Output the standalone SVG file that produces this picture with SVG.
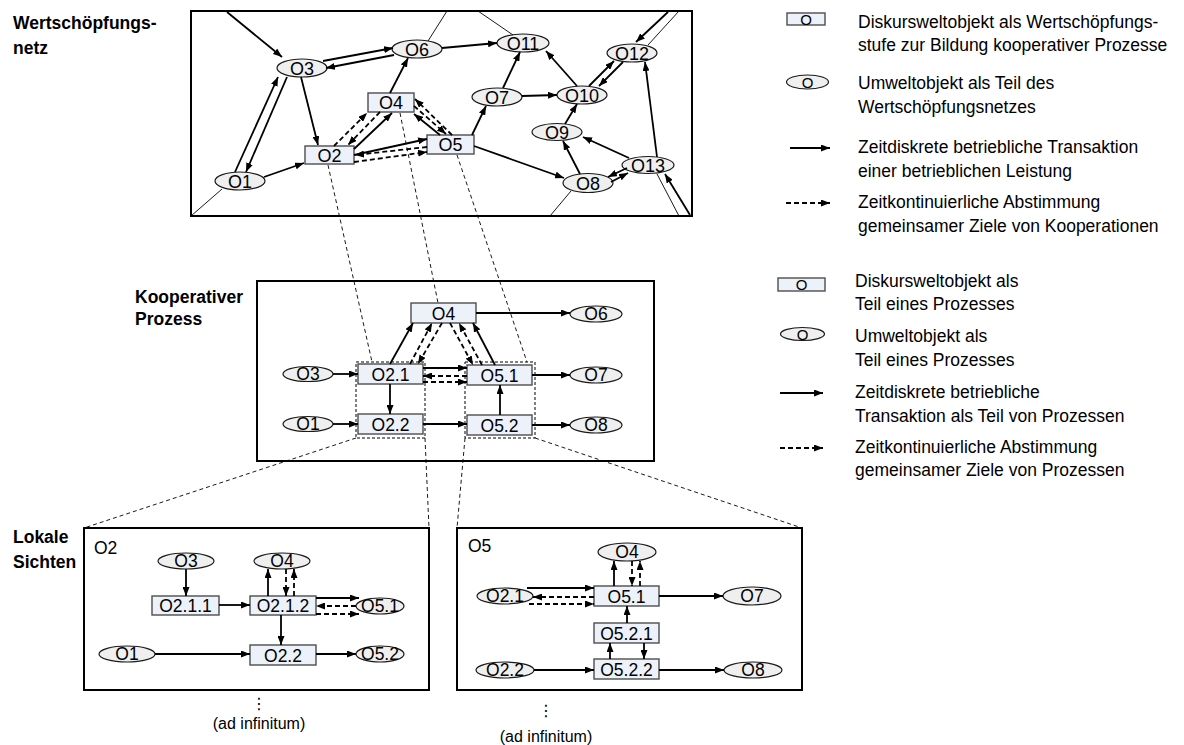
<svg xmlns="http://www.w3.org/2000/svg" width="1184" height="745" viewBox="0 0 1184 745">
  <defs>
    <marker id="ah" viewBox="0 0 9 7" markerWidth="9" markerHeight="7" refX="9" refY="3.5" orient="auto" markerUnits="userSpaceOnUse">
      <path d="M0,0 L9,3.5 L0,7 z" fill="#000"/>
    </marker>
    <style>
      text { font-family: "Liberation Sans", Arial, sans-serif; fill: #000; }
      .lbl { font-size: 17.5px; font-weight: bold; }
      .leg { font-size: 17.5px; }
      .nt { font-size: 17.5px; text-anchor: middle; }
      .nt18 { font-size: 18px; text-anchor: middle; }
      .ico { font-size: 15px; text-anchor: middle; }
      .small { font-size: 16px; text-anchor: middle; }
      .dots { font-family: "DejaVu Sans", sans-serif; font-size: 16px; text-anchor: middle; }
      .frame { fill: #fff; stroke: #000; stroke-width: 2; }
      .rn { fill: #edf1f9; stroke: #4d4d4d; stroke-width: 1.4; }
      .en { fill: #efefef; stroke: #1a1a1a; stroke-width: 1.2; }
      .grp { fill: none; stroke: #000; stroke-width: 1; stroke-dasharray: 3 2; }
      .s { stroke: #000; stroke-width: 1.8; fill: none; marker-end: url(#ah); }
      .d { stroke: #000; stroke-width: 1.8; fill: none; stroke-dasharray: 5 3; marker-end: url(#ah); }
      .thin { stroke: #000; stroke-width: 0.9; fill: none; }
      .proj { stroke: #000; stroke-width: 0.9; fill: none; stroke-dasharray: 4 3; }
    </style>
  </defs>

  <!-- level labels -->
  <text class="lbl" x="13" y="29">Wertschöpfungs-</text>
  <text class="lbl" x="13" y="54">netz</text>
  <text class="lbl" x="135" y="303">Kooperativer</text>
  <text class="lbl" x="135" y="325">Prozess</text>
  <text class="lbl" x="13" y="543">Lokale</text>
  <text class="lbl" x="13" y="568">Sichten</text>

  <!-- frames -->
  <rect id="frame-net" class="frame" x="191" y="11" width="501" height="205"/>
  <rect id="frame-process" class="frame" x="257" y="281" width="397" height="180"/>
  <rect id="frame-o2" class="frame" x="84" y="528" width="345" height="162"/>
  <rect id="frame-o5" class="frame" x="457" y="528" width="345" height="162"/>

  <!-- projection lines between the levels -->
  <g id="projections">
    <line class="proj" x1="328" y1="165" x2="372" y2="362"/>
    <line class="proj" x1="400" y1="113" x2="438" y2="303"/>
    <line class="proj" x1="457" y1="155" x2="527" y2="362"/>
    <line class="proj" x1="356" y1="438" x2="84" y2="528"/>
    <line class="proj" x1="425" y1="438" x2="429" y2="528"/>
    <line class="proj" x1="465" y1="438" x2="457" y2="528"/>
    <line class="proj" x1="535" y1="438" x2="802" y2="528"/>
  </g>

  <!-- value network: nodes -->
  <g id="net-O1"><ellipse class="en" cx="240" cy="181" rx="25" ry="9"/><text class="nt18" x="240" y="187.5">O1</text></g>
  <g id="net-O3"><ellipse class="en" cx="302" cy="68" rx="25" ry="9"/><text class="nt18" x="302" y="74.5">O3</text></g>
  <g id="net-O6"><ellipse class="en" cx="417" cy="49" rx="25" ry="9"/><text class="nt18" x="417" y="55.5">O6</text></g>
  <g id="net-O11"><ellipse class="en" cx="523" cy="43" rx="26" ry="9"/><text class="nt18" x="523" y="49.5">O11</text></g>
  <g id="net-O12"><ellipse class="en" cx="632" cy="53" rx="25" ry="9"/><text class="nt18" x="632" y="59.5">O12</text></g>
  <g id="net-O7"><ellipse class="en" cx="497" cy="97" rx="25" ry="9"/><text class="nt18" x="497" y="103.5">O7</text></g>
  <g id="net-O10"><ellipse class="en" cx="582" cy="95" rx="25" ry="9"/><text class="nt18" x="582" y="101.5">O10</text></g>
  <g id="net-O9"><ellipse class="en" cx="557" cy="132" rx="25" ry="8.5"/><text class="nt18" x="557" y="138.5">O9</text></g>
  <g id="net-O13"><ellipse class="en" cx="648" cy="165" rx="26" ry="8.5"/><text class="nt18" x="648" y="171.5">O13</text></g>
  <g id="net-O8"><ellipse class="en" cx="588" cy="183" rx="25" ry="9.5"/><text class="nt18" x="588" y="189.5">O8</text></g>
  <g id="net-O4"><rect class="rn" x="368" y="93" width="46" height="19"/><text class="nt18" x="391" y="109">O4</text></g>
  <g id="net-O2"><rect class="rn" x="305" y="146" width="49" height="18"/><text class="nt18" x="329.5" y="161.5">O2</text></g>
  <g id="net-O5"><rect class="rn" x="427" y="135" width="47" height="19"/><text class="nt18" x="450.5" y="151">O5</text></g>

  <!-- value network: connectors -->
  <g id="net-edges">
    <line class="thin" x1="191" y1="216" x2="222" y2="189"/>
    <line class="thin" x1="428" y1="41" x2="447" y2="11"/>
    <line class="thin" x1="478" y1="11" x2="513" y2="35"/>
    <line class="thin" x1="679" y1="11" x2="648" y2="45"/>
    <line class="thin" x1="657" y1="174" x2="679" y2="216"/>
    <line class="thin" x1="571" y1="191" x2="550" y2="216"/>

    <line class="s" x1="227" y1="12" x2="282" y2="57"/>
    <line class="s" x1="235" y1="172" x2="278" y2="77"/>
    <line class="s" x1="287" y1="77" x2="246" y2="172"/>
    <line class="s" x1="323" y1="61" x2="393" y2="48"/>
    <line class="s" x1="394" y1="55" x2="326" y2="68"/>
    <line class="s" x1="301" y1="77" x2="318" y2="145"/>
    <line class="s" x1="264" y1="177" x2="304" y2="163"/>

    <line class="d" x1="334" y1="146" x2="367" y2="113"/>
    <line class="d" x1="380" y1="112" x2="348" y2="145"/>
    <line class="s" x1="354" y1="149" x2="392" y2="113"/>

    <line class="s" x1="354" y1="155" x2="427" y2="139"/>
    <line class="d" x1="427" y1="147" x2="355" y2="155"/>
    <line class="d" x1="354" y1="162" x2="427" y2="152"/>

    <line class="d" x1="452" y1="135" x2="415" y2="99"/>
    <line class="d" x1="414" y1="106" x2="446" y2="134"/>
    <line class="s" x1="440" y1="135" x2="414" y2="114"/>

    <line class="s" x1="390" y1="93" x2="408" y2="58"/>
    <line class="s" x1="442" y1="48" x2="497" y2="43"/>
    <line class="s" x1="472" y1="135" x2="486" y2="106"/>
    <line class="s" x1="474" y1="146" x2="564" y2="178"/>
    <line class="s" x1="503" y1="88" x2="520" y2="52"/>
    <line class="s" x1="522" y1="96" x2="557" y2="95"/>
    <line class="s" x1="577" y1="86" x2="546" y2="51"/>
    <line class="s" x1="589" y1="86" x2="614" y2="61"/>
    <line class="s" x1="623" y1="62" x2="599" y2="86"/>
    <line class="s" x1="565" y1="124" x2="577" y2="104"/>
    <line class="s" x1="580" y1="174" x2="563" y2="141"/>
    <line class="s" x1="629" y1="158" x2="583" y2="137"/>
    <line class="s" x1="627" y1="168" x2="608" y2="177"/>
    <line class="s" x1="611" y1="182" x2="628" y2="173"/>
    <line class="s" x1="657" y1="157" x2="645" y2="62"/>
    <line class="s" x1="668" y1="12" x2="636" y2="42"/>
    <line class="s" x1="690" y1="215" x2="665" y2="174"/>
  </g>

  <!-- cooperative process -->
  <rect id="group-O2" class="grp" x="356" y="362" width="69" height="76"/>
  <rect id="group-O5" class="grp" x="465" y="362" width="70" height="76"/>
  <g id="proc-O4"><rect class="rn" x="411" y="303" width="65" height="20"/><text class="nt" x="443.5" y="319.5">O4</text></g>
  <g id="proc-O6"><ellipse class="en" cx="596" cy="314" rx="26" ry="8"/><text class="nt" x="596" y="320">O6</text></g>
  <g id="proc-O3"><ellipse class="en" cx="308" cy="374" rx="25" ry="7.5"/><text class="nt" x="308" y="380">O3</text></g>
  <g id="proc-O2.1"><rect class="rn" x="358" y="364" width="65" height="20"/><text class="nt" x="390.5" y="380.5">O2.1</text></g>
  <g id="proc-O5.1"><rect class="rn" x="467" y="365" width="65" height="20"/><text class="nt" x="499.5" y="381.5">O5.1</text></g>
  <g id="proc-O7"><ellipse class="en" cx="596" cy="375" rx="26" ry="8"/><text class="nt" x="596" y="381">O7</text></g>
  <g id="proc-O1"><ellipse class="en" cx="308" cy="424" rx="25" ry="7.5"/><text class="nt" x="308" y="430">O1</text></g>
  <g id="proc-O2.2"><rect class="rn" x="358" y="414" width="65" height="20"/><text class="nt" x="390.5" y="430.5">O2.2</text></g>
  <g id="proc-O5.2"><rect class="rn" x="467" y="415" width="65" height="20"/><text class="nt" x="499.5" y="431.5">O5.2</text></g>
  <g id="proc-O8"><ellipse class="en" cx="596" cy="425" rx="26" ry="8"/><text class="nt" x="596" y="431">O8</text></g>

  <g id="proc-edges">
    <line class="s" x1="476" y1="313" x2="570" y2="313"/>
    <line class="s" x1="333" y1="374" x2="358" y2="374"/>
    <line class="s" x1="333" y1="424" x2="358" y2="424"/>
    <line class="s" x1="390" y1="384" x2="390" y2="414"/>
    <line class="s" x1="423" y1="424" x2="467" y2="424"/>
    <line class="s" x1="500" y1="415" x2="500" y2="385"/>
    <line class="s" x1="532" y1="375" x2="570" y2="375"/>
    <line class="s" x1="532" y1="425" x2="570" y2="425"/>
    <line class="s" x1="423" y1="368" x2="467" y2="368"/>
    <line class="d" x1="467" y1="376" x2="423" y2="376"/>
    <line class="d" x1="423" y1="382" x2="467" y2="382"/>
    <line class="s" x1="390" y1="364" x2="413" y2="323"/>
    <line class="d" x1="410" y1="364" x2="432" y2="323"/>
    <line class="d" x1="442" y1="323" x2="418" y2="364"/>
    <line class="d" x1="450" y1="323" x2="473" y2="365"/>
    <line class="d" x1="482" y1="365" x2="459" y2="323"/>
    <line class="s" x1="495" y1="365" x2="473" y2="323"/>
  </g>

  <!-- local view of O2 -->
  <text class="leg" x="94" y="554">O2</text>
  <g id="o2-O3"><ellipse class="en" cx="186" cy="561" rx="28" ry="8"/><text class="nt" x="186" y="567">O3</text></g>
  <g id="o2-O4"><ellipse class="en" cx="282" cy="561" rx="28" ry="8"/><text class="nt" x="282" y="567">O4</text></g>
  <g id="o2-O2.1.1"><rect class="rn" x="152" y="596" width="67" height="19"/><text class="nt" x="185.5" y="612">O2.1.1</text></g>
  <g id="o2-O2.1.2"><rect class="rn" x="250" y="596" width="66" height="19"/><text class="nt" x="283" y="612">O2.1.2</text></g>
  <g id="o2-O5.1"><ellipse class="en" cx="380" cy="606" rx="24" ry="8"/><text class="nt" x="380" y="612">O5.1</text></g>
  <g id="o2-O1"><ellipse class="en" cx="127" cy="654" rx="28" ry="8"/><text class="nt" x="127" y="660">O1</text></g>
  <g id="o2-O2.2"><rect class="rn" x="250" y="645" width="66" height="20"/><text class="nt" x="283" y="661.5">O2.2</text></g>
  <g id="o2-O5.2"><ellipse class="en" cx="380" cy="654" rx="24" ry="8"/><text class="nt" x="380" y="660">O5.2</text></g>

  <g id="o2-edges">
    <line class="s" x1="186" y1="569" x2="186" y2="596"/>
    <line class="s" x1="219" y1="605" x2="250" y2="605"/>
    <line class="s" x1="268" y1="596" x2="268" y2="569"/>
    <line class="d" x1="286" y1="569" x2="286" y2="596"/>
    <line class="d" x1="294" y1="596" x2="294" y2="569"/>
    <line class="s" x1="316" y1="598" x2="359" y2="598"/>
    <line class="d" x1="356" y1="606" x2="316" y2="606"/>
    <line class="d" x1="316" y1="614" x2="359" y2="614"/>
    <line class="s" x1="281" y1="615" x2="281" y2="645"/>
    <line class="s" x1="155" y1="654" x2="250" y2="654"/>
    <line class="s" x1="316" y1="654" x2="356" y2="654"/>
  </g>

  <!-- local view of O5 -->
  <text class="leg" x="468" y="552">O5</text>
  <g id="o5-O4"><ellipse class="en" cx="627" cy="552" rx="29" ry="9"/><text class="nt" x="627" y="558">O4</text></g>
  <g id="o5-O5.1"><rect class="rn" x="594" y="586" width="65" height="20"/><text class="nt" x="626.5" y="602.5">O5.1</text></g>
  <g id="o5-O2.1"><ellipse class="en" cx="505" cy="596" rx="28" ry="8"/><text class="nt" x="505" y="602">O2.1</text></g>
  <g id="o5-O7"><ellipse class="en" cx="752" cy="596" rx="29" ry="9"/><text class="nt" x="752" y="602">O7</text></g>
  <g id="o5-O5.2.1"><rect class="rn" x="594" y="623" width="65" height="20"/><text class="nt" x="626.5" y="639.5">O5.2.1</text></g>
  <g id="o5-O2.2"><ellipse class="en" cx="505" cy="670" rx="29" ry="8"/><text class="nt" x="505" y="676">O2.2</text></g>
  <g id="o5-O5.2.2"><rect class="rn" x="594" y="659" width="65" height="20"/><text class="nt" x="626.5" y="675.5">O5.2.2</text></g>
  <g id="o5-O8"><ellipse class="en" cx="753" cy="670" rx="29" ry="8"/><text class="nt" x="753" y="676">O8</text></g>

  <g id="o5-edges">
    <line class="s" x1="614" y1="586" x2="614" y2="561"/>
    <line class="d" x1="632" y1="561" x2="632" y2="586"/>
    <line class="d" x1="640" y1="586" x2="640" y2="561"/>
    <line class="s" x1="527" y1="588" x2="594" y2="588"/>
    <line class="d" x1="594" y1="597" x2="533" y2="597"/>
    <line class="d" x1="529" y1="604" x2="594" y2="604"/>
    <line class="s" x1="659" y1="596" x2="723" y2="596"/>
    <line class="s" x1="627" y1="623" x2="627" y2="606"/>
    <line class="s" x1="610" y1="659" x2="610" y2="643"/>
    <line class="s" x1="644" y1="643" x2="644" y2="659"/>
    <line class="s" x1="534" y1="670" x2="594" y2="670"/>
    <line class="s" x1="659" y1="670" x2="724" y2="670"/>
  </g>

  <!-- continuation marks -->
  <text class="dots" x="259" y="709">⋮</text>
  <text class="small" x="259" y="729">(ad infinitum)</text>
  <text class="dots" x="546" y="716">⋮</text>
  <text class="small" x="546" y="742">(ad infinitum)</text>

  <!-- legend: value network -->
  <g id="legend-net">
    <rect class="rn" x="787" y="13" width="38" height="12"/>
    <text class="ico" x="806" y="24.5">O</text>
    <text class="leg" x="858" y="28">Diskursweltobjekt als Wertschöpfungs-</text>
    <text class="leg" x="858" y="51">stufe zur Bildung kooperativer Prozesse</text>
    <ellipse class="en" cx="807.5" cy="82" rx="21" ry="7"/>
    <text class="ico" x="807.5" y="87.5">O</text>
    <text class="leg" x="858" y="89">Umweltobjekt als Teil des</text>
    <text class="leg" x="858" y="113">Wertschöpfungsnetzes</text>
    <line class="s" x1="790" y1="148" x2="830" y2="148"/>
    <text class="leg" x="858" y="153">Zeitdiskrete betriebliche Transaktion</text>
    <text class="leg" x="858" y="177">einer betrieblichen Leistung</text>
    <line class="d" x1="786" y1="203" x2="830" y2="203"/>
    <text class="leg" x="858" y="208">Zeitkontinuierliche Abstimmung</text>
    <text class="leg" x="858" y="232">gemeinsamer Ziele von Kooperationen</text>
  </g>

  <!-- legend: process -->
  <g id="legend-process">
    <rect class="rn" x="778" y="278" width="47" height="13"/>
    <text class="ico" x="801.5" y="290">O</text>
    <text class="leg" x="855" y="287">Diskursweltobjekt als</text>
    <text class="leg" x="855" y="310">Teil eines Prozesses</text>
    <ellipse class="en" cx="802.5" cy="334" rx="22" ry="6.5"/>
    <text class="ico" x="802.5" y="339.5">O</text>
    <text class="leg" x="855" y="342">Umweltobjekt als</text>
    <text class="leg" x="855" y="366">Teil eines Prozesses</text>
    <line class="s" x1="780" y1="393" x2="823" y2="393"/>
    <text class="leg" x="855" y="398">Zeitdiskrete betriebliche</text>
    <text class="leg" x="855" y="422">Transaktion als Teil von Prozessen</text>
    <line class="d" x1="780" y1="448" x2="823" y2="448"/>
    <text class="leg" x="855" y="453">Zeitkontinuierliche Abstimmung</text>
    <text class="leg" x="855" y="476">gemeinsamer Ziele von Prozessen</text>
  </g>
</svg>
